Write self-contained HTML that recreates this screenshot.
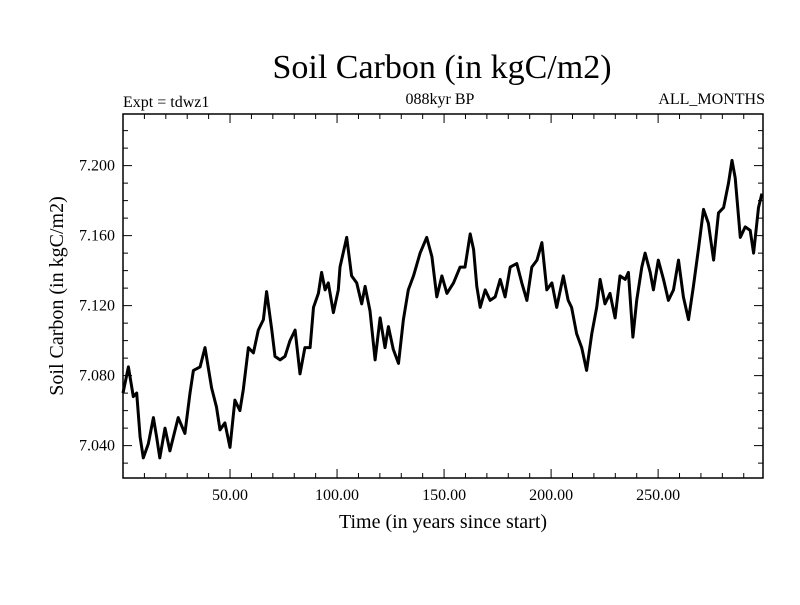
<!DOCTYPE html>
<html><head><meta charset="utf-8"><style>
body{margin:0;background:#fff}
svg text{font-family:"Liberation Serif",serif;fill:#000}
</style></head><body>
<svg id="chart" width="800" height="600" xmlns="http://www.w3.org/2000/svg">
<rect width="800" height="600" fill="#fff"/>
<text x="442" y="78" font-size="34" text-anchor="middle">Soil Carbon (in kgC/m2)</text>
<text x="123" y="107" font-size="16">Expt = tdwz1</text>
<text x="440" y="104" font-size="16" text-anchor="middle">088kyr BP</text>
<text x="765" y="104" font-size="16" text-anchor="end">ALL_MONTHS</text>
<text x="443" y="528" font-size="20" text-anchor="middle">Time (in years since start)</text>
<text transform="translate(63,296) rotate(-90)" font-size="20" text-anchor="middle">Soil Carbon (in kgC/m2)</text>
<g id="axes"></g>
<path id="series" fill="none" stroke="#000" stroke-width="3" stroke-linejoin="round"/>
<rect x="123" y="114" width="640" height="364" fill="none" stroke="#000" stroke-width="1.5"/>
</svg>
<script>
const times=[0,2.5,4.8,6.4,8,9.5,11.8,14.2,15.7,17.2,19.6,21.9,25.8,28.9,31.3,32.9,36,38.3,41.4,43.7,45.3,47.6,50,52.3,54.6,56.2,58.6,60.9,63.2,65.6,67.1,69.5,71,73.4,75.7,78,80.4,82.7,85,87.4,89,91.3,92.8,94.4,95.9,98.3,100.6,101.4,104.5,106.8,109.2,111.5,113.1,115.4,117.8,120.1,122.4,124,126.3,128.7,131,133.3,135.7,138.8,141.9,144.3,146.6,149,151.3,154.4,157.5,159.8,162.2,163.8,165.3,166.9,169.2,171.5,173.9,176.2,178.5,180.9,184,186.3,188.7,191,193.4,195.7,198,200.4,202.6,205.7,208,209.6,211.9,214.3,216.6,219,221.3,222.9,225.2,227.5,229.9,232.2,234.6,236.1,238.2,240,242.4,243.9,246.3,247.8,250.1,252.5,254.8,257.2,259.5,261.8,264.2,266.5,268.9,271.2,273.5,275.9,278.2,280.6,282.9,284.5,286,288.4,290.7,293,294.6,296.9,298.5];
const values=[7.070,7.085,7.068,7.070,7.045,7.033,7.041,7.056,7.045,7.033,7.050,7.037,7.056,7.047,7.070,7.083,7.085,7.096,7.073,7.062,7.049,7.053,7.039,7.066,7.060,7.072,7.096,7.093,7.106,7.112,7.128,7.106,7.091,7.089,7.091,7.100,7.106,7.081,7.096,7.096,7.119,7.127,7.139,7.129,7.133,7.116,7.129,7.142,7.159,7.137,7.133,7.121,7.131,7.117,7.089,7.113,7.096,7.108,7.095,7.087,7.112,7.129,7.137,7.150,7.159,7.148,7.125,7.137,7.127,7.133,7.142,7.142,7.161,7.152,7.131,7.119,7.129,7.123,7.125,7.135,7.125,7.142,7.144,7.133,7.123,7.142,7.146,7.156,7.129,7.133,7.119,7.137,7.123,7.119,7.104,7.096,7.083,7.104,7.119,7.135,7.121,7.127,7.113,7.137,7.135,7.139,7.102,7.123,7.142,7.150,7.139,7.129,7.146,7.135,7.123,7.129,7.146,7.125,7.112,7.131,7.153,7.175,7.167,7.146,7.173,7.176,7.190,7.203,7.193,7.159,7.165,7.163,7.150,7.176,7.184];
const xTickValues=[50,100,150,200,250];
const xTickLabels=["50.00","100.00","150.00","200.00","250.00"];
const yTickValues=[7.04,7.08,7.12,7.16,7.2];
const yTickLabels=["7.040","7.080","7.120","7.160","7.200"];
const X0=123,X1=763,Y0=478,Y1=114,xMin=0,xMax=299,yMin=7.0215,yMax=7.2295;
function sx(t){return X0+(t-xMin)/(xMax-xMin)*(X1-X0);}
function sy(v){return Y0-(v-yMin)/(yMax-yMin)*(Y0-Y1);}
const NS="http://www.w3.org/2000/svg",axes=document.getElementById('axes');
function line(x1,y1,x2,y2,name){const l=document.createElementNS(NS,'line');
l.setAttribute('x1',x1);l.setAttribute('y1',y1);l.setAttribute('x2',x2);l.setAttribute('y2',y2);
l.setAttribute('stroke','#000');l.setAttribute('stroke-width','1');


axes.appendChild(l);}
for(let t=10;t<xMax;t+=10){const x=sx(t),len=(t%50===0)?9:5;line(x,Y0,x,Y0-len,'x-tick');line(x,Y1,x,Y1+len,'x-tick-top');}
for(let i=0;i<=20;i++){const v=7.03+i*0.01;if(v>yMax)break;const y=sy(v);const major=Math.abs(((v-7.04)/0.04)-Math.round((v-7.04)/0.04))<1e-6;const len=major?9:5;line(X0,y,X0+len,y,'y-tick');line(X1,y,X1-len,y,'y-tick-right');}
xTickValues.forEach((t,i)=>{const tx=document.createElementNS(NS,'text');tx.setAttribute('x',sx(t));tx.setAttribute('y',500);tx.setAttribute('font-size','16');tx.setAttribute('text-anchor','middle');tx.textContent=xTickLabels[i];


axes.appendChild(tx);});
yTickValues.forEach((v,i)=>{const tx=document.createElementNS(NS,'text');tx.setAttribute('x',115);tx.setAttribute('y',sy(v)+5);tx.setAttribute('font-size','16');tx.setAttribute('text-anchor','end');tx.textContent=yTickLabels[i];


axes.appendChild(tx);});
document.getElementById('series').setAttribute('d',times.map((t,i)=>(i?'L':'M')+sx(t).toFixed(1)+','+sy(values[i]).toFixed(1)).join(''));
</script>
</body></html>
